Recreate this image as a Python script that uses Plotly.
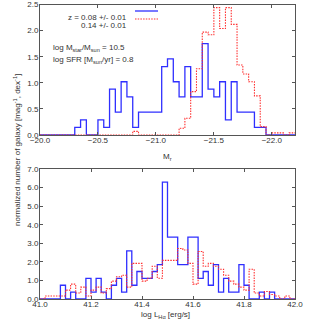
import numpy as np
import plotly.graph_objects as go

W, H = 309, 329

# ---------------- data ----------------
# top panel: M_r histogram, bins of 0.05 mag from -20.0 to -22.2
mr_edges = np.round(-20.0 - 0.05 * np.arange(45), 2)
mr_blue = [0, 0, 0, 0, 0, 0,
           0.146, 0.29, 0, 0, 0.29, 0.146, 0.88, 0.44, 1.02, 0.73, 0.146,
           0.44, 0.44, 0.44, 0.44, 1.31, 1.46, 1.02, 0.73, 1.31, 0.73, 0.73,
           1.75, 0.88, 0.73, 1.02, 0.29, 1.02, 0.44, 0.44, 0.44, 0.146, 0.146,
           0, 0, 0, 0, 0]
mr_red = [0] * 16 + [0.07] + [0] * 7 + [
    0.13, 0.32, 0.83, 1.27, 1.97, 1.92, 2.44, 2.04, 2.44, 2.12, 1.34, 1.17,
    1.02, 0.75, 0.16, 0, 0.04, 0.04, 0, 0.04]

# bottom panel: log L_Halpha histogram, bins of 0.02 dex from 41.0 to 42.0
lha_edges = np.round(41.0 + 0.02 * np.arange(51), 2)
lha_blue = [0, 0, 0, 0, 0.74, 0, 0.37, 0, 0, 1.11,
            0.37, 1.11, 0.37, 0, 0.74, 1.11, 0.37, 2.59, 0.74, 1.48,
            1.11, 1.11, 1.48, 1.85, 6.29, 3.33, 3.33, 1.85, 1.85, 3.33,
            3.33, 1.11, 1.48, 0.74, 1.85, 0.37, 1.11, 0.37, 0.37, 1.85,
            0.74, 0, 0, 0.37, 0, 0.37, 0, 0, 0, 0]
lha_red = [0, 0.16, 0.16, 0.16, 0.16, 0.48, 0.8, 0.32, 0.64, 0.16,
           0.48, 0.64, 0.32, 0.56, 0.96, 1.2, 1.28, 0.64, 1.92, 1.92,
           0.96, 1.12, 1.76, 1.12, 2.08, 2.08, 2.08, 2.72, 2.64, 1.92,
           0.8, 2.56, 1.76, 1.92, 1.76, 1.6, 1.28, 0.96, 0.8, 0.64,
           0.48, 1.6, 0.32, 0.16, 0.4, 0.24, 0.16, 0, 0.16, 0]

series_labels = ["z = 0.08 +/- 0.01", "0.14 +/- 0.01"]
mr_ticks = [-20.0, -20.5, -21.0, -21.5, -22.0]
lha_ticks = [41.0, 41.2, 41.4, 41.6, 41.8, 42.0]
top_yticks = [0.0, 0.5, 1.0, 1.5, 2.0, 2.5]
bot_yticks = [0, 1, 2, 3, 4, 5, 6, 7]

BLUE = "#2f2fff"
RED = "#ff3030"
RED_DASH = "1.5px,1.2px"
FONT = "Liberation Sans, Arial, sans-serif"
TXT = "#333333"
AX = "#555555"


def steps(edges, vals):
    x = list(edges)
    y = list(vals) + [vals[-1]]
    return x, y


fig = go.Figure()
for edges, vals, color, dash, xa, ya, w in [
    (mr_edges, mr_blue, BLUE, "solid", "x", "y", 1.3),
    (mr_edges, mr_red, RED, RED_DASH, "x", "y", 1.1),
    (lha_edges, lha_blue, BLUE, "solid", "x2", "y2", 1.3),
    (lha_edges, lha_red, RED, RED_DASH, "x2", "y2", 1.1),
]:
    x, y = steps(edges, vals)
    fig.add_trace(go.Scatter(x=x, y=y, mode="lines", line_shape="hv",
                             line=dict(color=color, width=w, dash=dash),
                             xaxis=xa, yaxis=ya, showlegend=False,
                             hoverinfo="skip"))


def px(x):
    return x / W


def py(y):
    return 1 - y / H


axis_common = dict(showline=True, linecolor=AX, linewidth=1, mirror="ticks",
                   ticks="inside", ticklen=3, tickcolor=AX, tickwidth=1,
                   showgrid=False, zeroline=False, automargin=False,
                   tickfont=dict(family=FONT, size=8, color=TXT))
xstand = dict(ticklabelstandoff=-3)
ystand = dict(ticklabelstandoff=-1)

fig.update_layout(
    width=W, height=H, template="none",
    margin=dict(l=0, r=0, t=0, b=0),
    paper_bgcolor="white", plot_bgcolor="white",
    font=dict(family=FONT, size=8, color=TXT),
    xaxis=dict(domain=[px(40), px(295)], anchor="y", range=[-20.0, -22.2],
               tickvals=mr_ticks, tickformat=".1f", **axis_common, **xstand),
    yaxis=dict(domain=[py(135), py(4.5)], anchor="x", range=[0, 2.5],
               tickvals=top_yticks, tickformat=".1f", **axis_common, **ystand),
    xaxis2=dict(domain=[px(40), px(295)], anchor="y2", range=[41.0, 42.0],
                tickvals=lha_ticks, tickformat=".1f", **axis_common, **xstand),
    yaxis2=dict(domain=[py(299), py(169)], anchor="x2", range=[0, 7],
                tickvals=bot_yticks, tickformat=".1f", **axis_common, **ystand),
)

ann = []
ann.append(dict(x=px(167), y=py(157), xref="paper", yref="paper",
                text="M<sub>r</sub>", showarrow=False,
                font=dict(family=FONT, size=8, color=TXT)))
ann.append(dict(x=px(166), y=py(322), xref="paper", yref="paper",
                text="log L<sub>Hα</sub> [erg/s]", showarrow=False,
                font=dict(family=FONT, size=8, color=TXT)))
ann.append(dict(x=px(10), y=py(150), xref="paper", yref="paper",
                text="normalized number of galaxy [mag<sup>-1</sup>, dex<sup>-1</sup>]",
                textangle=-90, showarrow=False,
                font=dict(family=FONT, size=8, color=TXT)))
ann.append(dict(x=px(51), y=py(41), xref="paper", yref="paper",
                xanchor="left", showarrow=False,
                text="log M<sub>star</sub>/M<sub>sun</sub> = 10.5",
                font=dict(family=FONT, size=8, color=TXT)))
ann.append(dict(x=px(51), y=py(53), xref="paper", yref="paper",
                xanchor="left", showarrow=False,
                text="log SFR [M<sub>sun</sub>/yr] = 0.8",
                font=dict(family=FONT, size=8, color=TXT)))
for i, (lab, col, dash) in enumerate(zip(series_labels, [BLUE, RED],
                                         ["solid", RED_DASH])):
    yy = 11 + 8 * i
    ann.append(dict(x=px(129), y=py(yy), xref="paper", yref="paper",
                    xanchor="right", showarrow=False, text=lab,
                    font=dict(family=FONT, size=8, color=TXT)))
    fig.add_shape(type="line", xref="paper", yref="paper",
                  x0=px(135), x1=px(158), y0=py(yy), y1=py(yy),
                  line=dict(color=col, width=1.3 if dash == "solid" else 1.1,
                            dash=dash))
fig.update_layout(annotations=ann)

fig.write_html("out.html",
               config={"displayModeBar": False},
               post_script="document.body.style.margin='0';"
                           "document.body.style.overflow='hidden';")
